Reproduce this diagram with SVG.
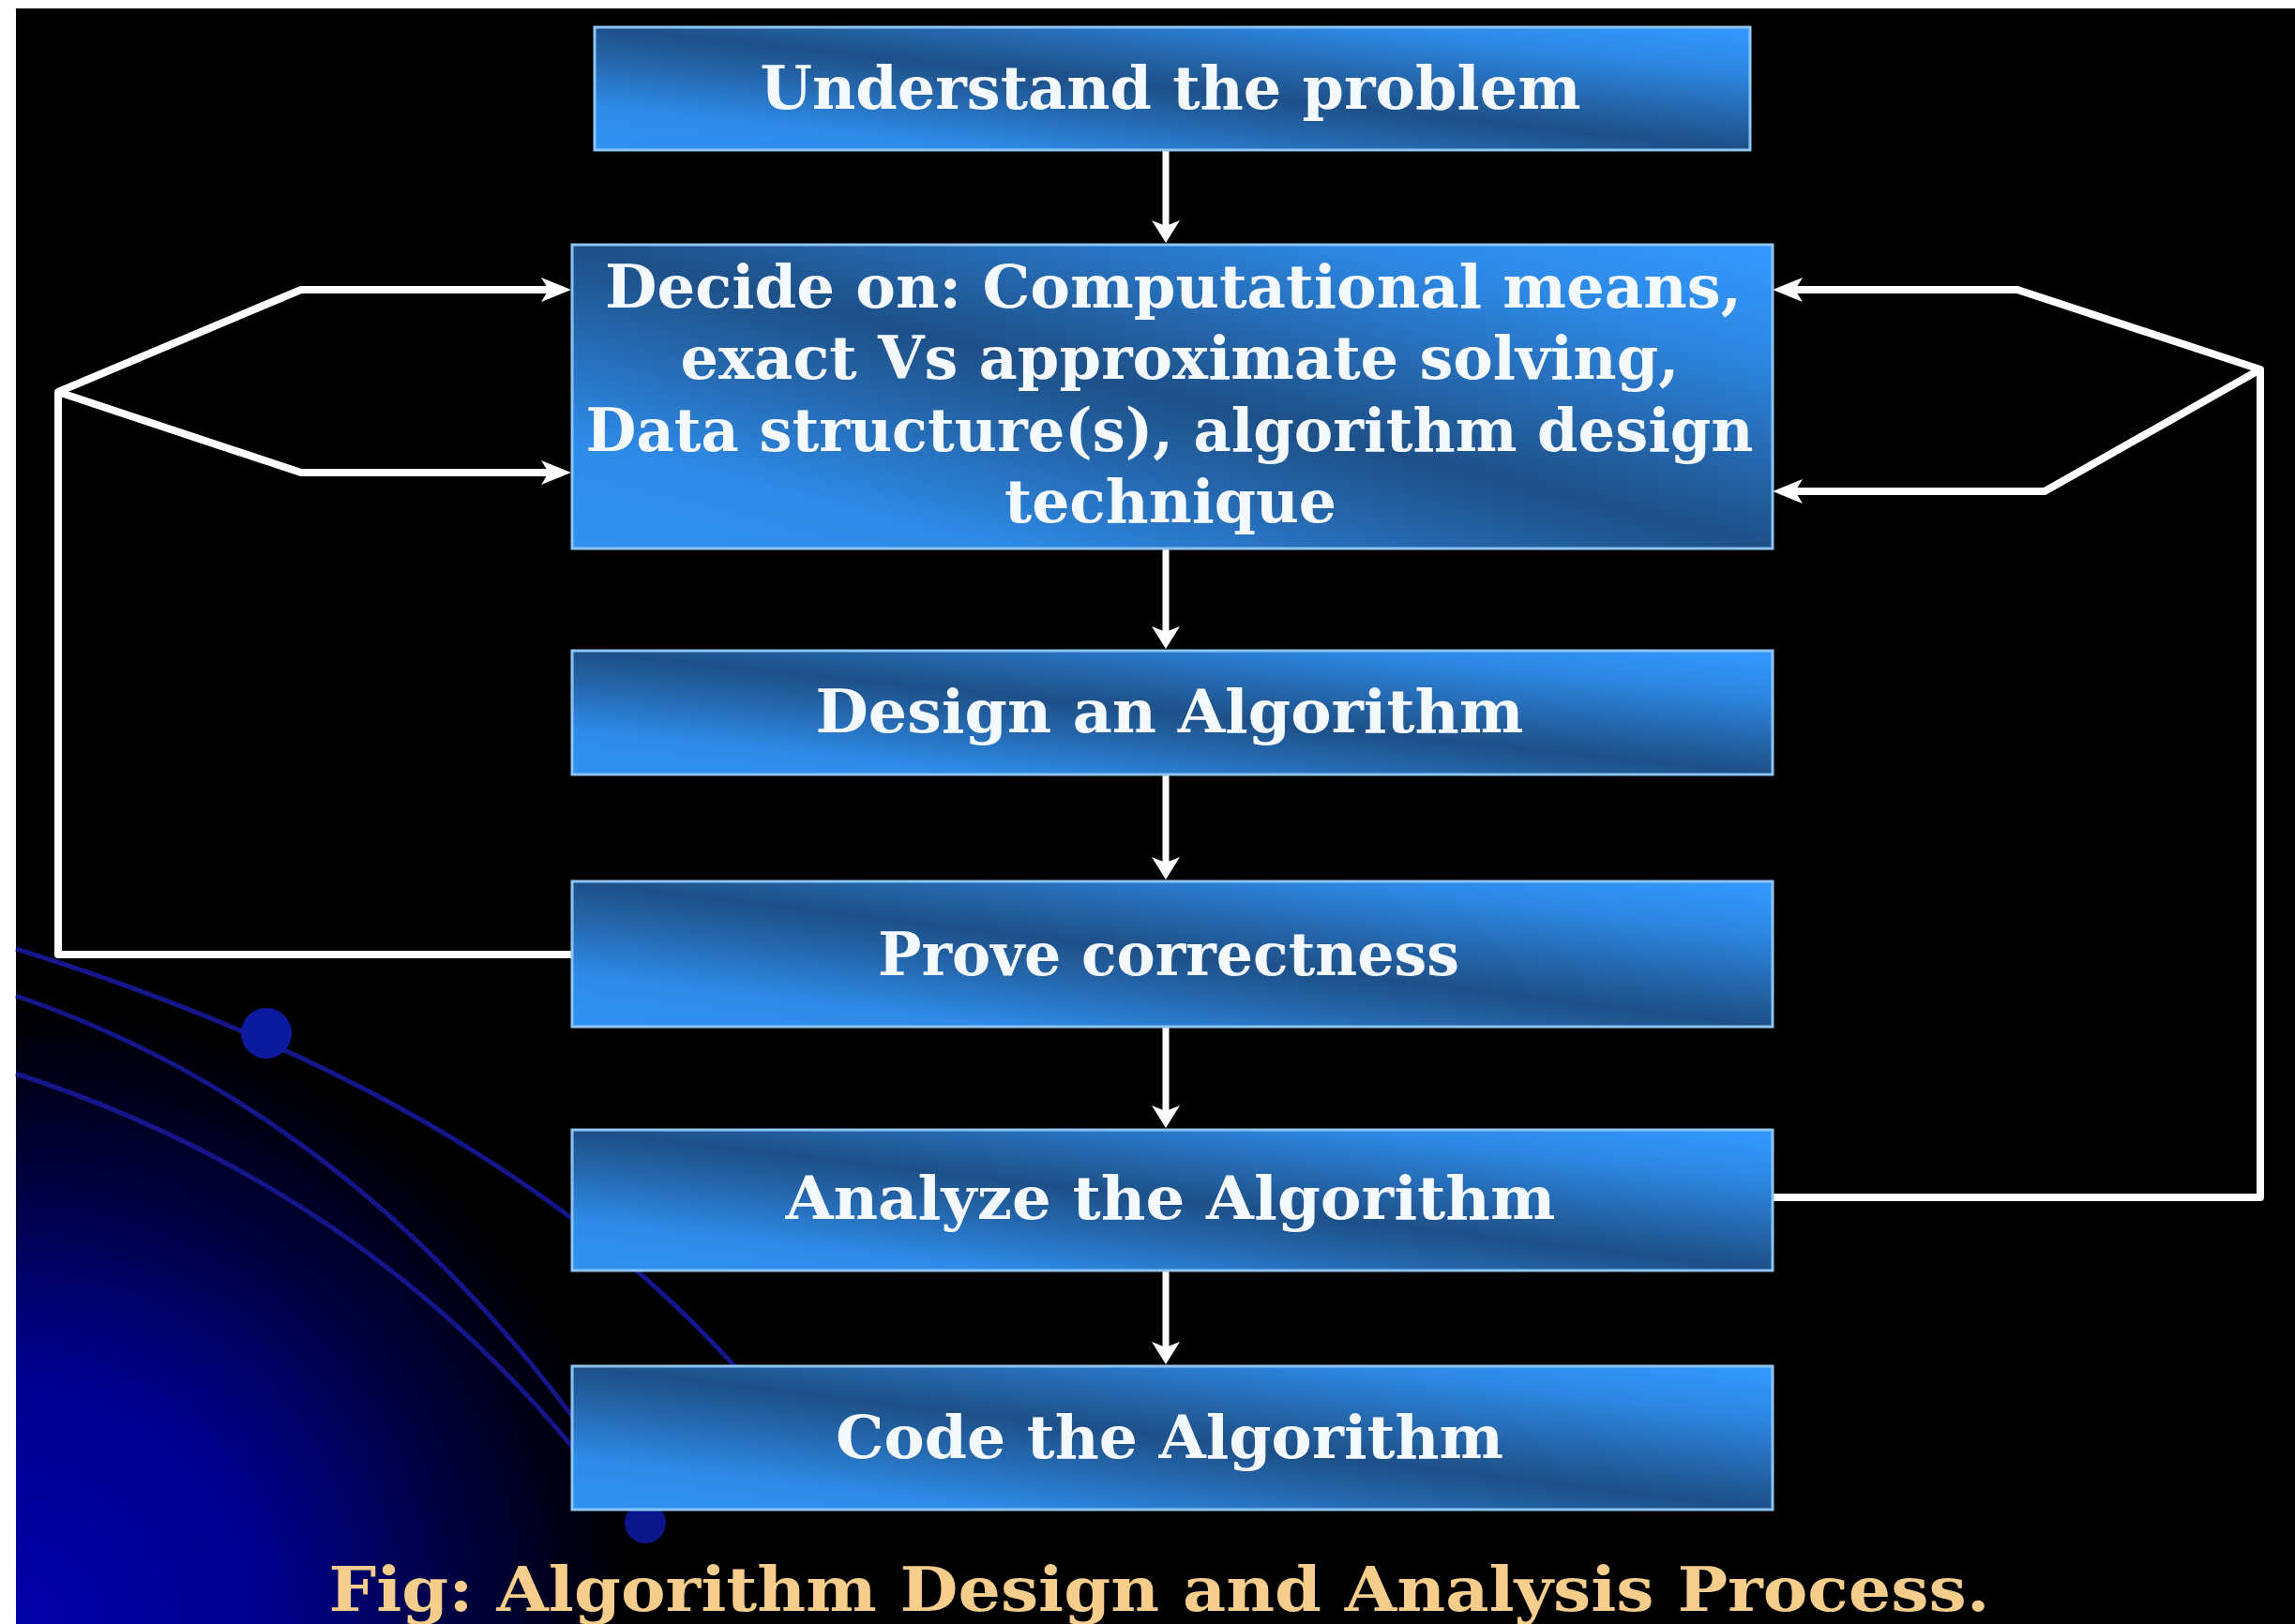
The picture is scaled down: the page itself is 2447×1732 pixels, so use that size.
<svg xmlns="http://www.w3.org/2000/svg" width="2447" height="1732" viewBox="0 0 2447 1732">
<defs>
<style>
.box { fill: url(#boxFill); stroke: #8cc4f2; stroke-width: 3; }
.lbl { font-family: "DejaVu Serif", "Liberation Serif", serif; font-weight: bold; font-size: 64px; fill: #f4f9ff; text-anchor: middle; }
.cap { font-family: "DejaVu Serif", "Liberation Serif", serif; font-weight: bold; font-size: 66px; fill: #f6cd8a; text-anchor: middle; }
.arc { fill: none; stroke: #16168c; stroke-width: 5; }
.vline { fill: none; stroke: #ffffff; stroke-width: 7; marker-end: url(#arrowV); }
.fline { fill: none; stroke: #ffffff; stroke-width: 8; stroke-linejoin: round; }
.fline.arr { marker-end: url(#arrowF); }
</style>
<radialGradient id="bgGlow" gradientUnits="userSpaceOnUse" cx="17" cy="1732" r="660">
<stop offset="0" stop-color="#0000a8"/>
<stop offset="0.4" stop-color="#000090"/>
<stop offset="0.75" stop-color="#000038"/>
<stop offset="1" stop-color="#000000"/>
</radialGradient>
<linearGradient id="boxFill" x1="0" y1="1" x2="1" y2="0">
<stop offset="0" stop-color="#3092f2"/>
<stop offset="0.18" stop-color="#2e8be8"/>
<stop offset="0.38" stop-color="#2464a8"/>
<stop offset="0.5" stop-color="#1e5088"/>
<stop offset="0.62" stop-color="#2464a8"/>
<stop offset="0.82" stop-color="#2d88e4"/>
<stop offset="1" stop-color="#3399ff"/>
</linearGradient>
<marker id="arrowV" markerUnits="userSpaceOnUse" viewBox="0 0 24 30" markerWidth="24" markerHeight="30" refX="6" refY="15" orient="auto">
<path d="M0,0 L24,15 L0,30 L6,15 Z" fill="#ffffff"/>
</marker>
<marker id="arrowF" markerUnits="userSpaceOnUse" viewBox="0 0 32 26" markerWidth="32" markerHeight="26" refX="8" refY="13" orient="auto">
<path d="M0,0 L32,13 L0,26 L8,13 Z" fill="#ffffff"/>
</marker>
</defs>

<g id="background">
<rect x="0" y="0" width="2447" height="1732" fill="#ffffff"/>
<rect x="17" y="9" width="2430" height="1723" fill="#000000"/>
<rect x="17" y="9" width="2430" height="1723" fill="url(#bgGlow)"/>
<path class="arc" d="M17,1012 Q560,1180 820,1500"/>
<path class="arc" d="M17,1062 Q420,1200 690,1626"/>
<path class="arc" d="M17,1145 Q400,1270 640,1580"/>
<circle cx="284" cy="1102" r="27" fill="#0b1a9e"/>
<circle cx="688" cy="1624" r="22" fill="#0a168a"/>
</g>

<g id="connectors">
<path class="vline" d="M1243,161 V241"/>
<path class="vline" d="M1243,586 V674"/>
<path class="vline" d="M1243,827 V920"/>
<path class="vline" d="M1243,1096 V1185"/>
<path class="vline" d="M1243,1356 V1437"/>
<path class="fline arr" d="M609,1018 H62 V418 L321,309 H585"/>
<path class="fline arr" d="M62,418 L321,504 H585"/>
<path class="fline arr" d="M1890,1277 H2410 V394 L2151,309 H1914"/>
<path class="fline arr" d="M2410,394 L2180,524 H1914"/>
</g>

<g id="node-understand">
<rect class="box" x="634" y="29" width="1232" height="131"/>
<text class="lbl" x="1248" y="116" textLength="875" lengthAdjust="spacingAndGlyphs">Understand the problem</text>
</g>

<g id="node-decide">
<rect class="box" x="610" y="261" width="1280" height="324"/>
<text class="lbl" x="1251" y="328" textLength="1212" lengthAdjust="spacingAndGlyphs">Decide on: Computational means,</text>
<text class="lbl" x="1258" y="404" textLength="1065" lengthAdjust="spacingAndGlyphs">exact Vs approximate solving,</text>
<text class="lbl" x="1247" y="481" textLength="1245" lengthAdjust="spacingAndGlyphs">Data structure(s), algorithm design</text>
<text class="lbl" x="1248" y="557" textLength="354" lengthAdjust="spacingAndGlyphs">technique</text>
</g>

<g id="node-design">
<rect class="box" x="610" y="694" width="1280" height="132"/>
<text class="lbl" x="1247" y="781" textLength="755" lengthAdjust="spacingAndGlyphs">Design an Algorithm</text>
</g>

<g id="node-prove">
<rect class="box" x="610" y="940" width="1280" height="155"/>
<text class="lbl" x="1246" y="1040" textLength="620" lengthAdjust="spacingAndGlyphs">Prove correctness</text>
</g>

<g id="node-analyze">
<rect class="box" x="610" y="1205" width="1280" height="150"/>
<text class="lbl" x="1248" y="1300" textLength="821" lengthAdjust="spacingAndGlyphs">Analyze the Algorithm</text>
</g>

<g id="node-code">
<rect class="box" x="610" y="1457" width="1280" height="153"/>
<text class="lbl" x="1247" y="1555" textLength="712" lengthAdjust="spacingAndGlyphs">Code the Algorithm</text>
</g>

<g id="caption">
<text class="cap" x="1236" y="1718" textLength="1771" lengthAdjust="spacingAndGlyphs">Fig: Algorithm Design and Analysis Process.</text>
</g>
</svg>
